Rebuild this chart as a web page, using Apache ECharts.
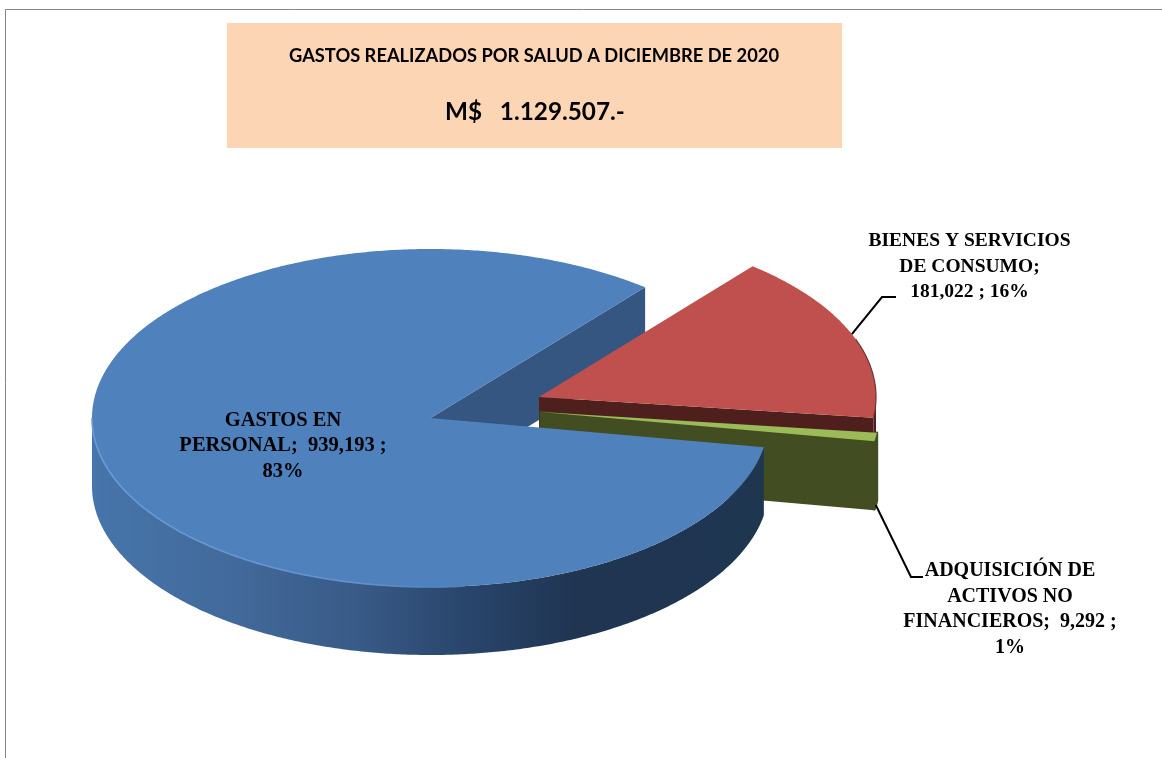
<!DOCTYPE html>
<html><head><meta charset="utf-8">
<style>html,body{margin:0;padding:0;background:#fff}#c{width:1162px;height:758px}</style>
<script src="https://cdn.jsdelivr.net/npm/echarts@6/dist/echarts.min.js"></script>
</head><body><div id="c"></div>
<script>
const categories = ['GASTOS EN PERSONAL', 'BIENES Y SERVICIOS DE CONSUMO', 'ADQUISICIÓN DE ACTIVOS NO FINANCIEROS'];
const values = [939193, 181022, 9292];
const labelLines = [
  ['GASTOS EN', 'PERSONAL;  {v} ;', '{p}%'],
  ['BIENES Y SERVICIOS', 'DE CONSUMO;', '{v} ; {p}%'],
  ['ADQUISICIÓN DE', 'ACTIVOS NO', 'FINANCIEROS;  {v} ;', '{p}%']
];
const titleText = 'GASTOS REALIZADOS POR SALUD A DICIEMBRE DE 2020';
const totalText = 'M$   1.129.507.-';

// layout and style (not data)
const START = -10, RY = 169, DEPTH = 68;
const radiiX = [338.5, 337, 339];
const centers = [[430.5, 418], [539, 397], [540.5, 412]];
const faceColors = ['#4F81BD', '#C0504D', '#9BBB59'];
const sideColors = ['#345680', '#4F1F1D', '#424D22'];
const outerFill = [
  {type:'linear',x:0,y:0,x2:1,y2:0,colorStops:[
    {offset:0,color:'#4675AB'},{offset:.22,color:'#42699A'},{offset:.40,color:'#385A86'},
    {offset:.55,color:'#2A466D'},{offset:.72,color:'#1F3552'},{offset:1,color:'#1F3651'}]},
  '#4F1F1D', '#424D22'];
const layers = [[1, 5], [2, 2], [3, 3]];
const labelPos = [[283, 446], [969.5, 266.5], [1010, 609.5]];
const labelSizes = [20.5, 19.5, 20];
const leaders = [null, {mid:0, pts:[[882,297],[896,297]]}, {mid:DEPTH, pts:[[911,577],[923,577]]}];

const total = values.reduce((a, b) => a + b, 0);
const rad = d => d * Math.PI / 180;
function pt(i, t, dy) { const c = centers[i]; return [c[0] + radiiX[i] * Math.cos(rad(t)), c[1] - RY * Math.sin(rad(t)) + (dy || 0)]; }
function arc(i, a, b, dy) { const n = Math.max(2, Math.ceil(Math.abs(a - b))*2), r = []; for (let k = 0; k <= n; k++) r.push(pt(i, a + (b - a) * k / n, dy)); return r; }
let cursor = START;
const angles = values.map(v => { const a = cursor; cursor -= v / total * 360; return [a, cursor]; });

function renderSlice(params, api) {
  const i = params.dataIndex, c = centers[i], v = api.value(0);
  const [a, b] = angles[i], [zWall, zFront] = layers[i];
  const kids = [];
  // flat cut wall at the end of the slice
  const e0 = pt(i, b), w = [c, e0, [e0[0], e0[1] + DEPTH], [c[0], c[1] + DEPTH]];
  kids.push({type:'polygon', z2:zWall, shape:{points:w}, style:{fill:sideColors[i], stroke:i===2?sideColors[i]:null, lineWidth:i===2?2:0, lineJoin:'round'}});
  // outer curved wall (front half only)
  const pts = arc(i, a, b).filter(p => p[1] >= c[1] - 0.01);
  if (pts.length > 1) {
    const low = pts.map(p => [p[0], p[1] + DEPTH]).reverse();
    kids.push({type:'polygon', z2:zFront, shape:{points:pts.concat(low)}, style:{fill:outerFill[i], stroke:i===2?sideColors[i]:null, lineWidth:i===2?2.5:0, lineJoin:'round'}});
  }
  // top face
  kids.push({type:'polygon', z2:zFront + 0.5, shape:{points:[c].concat(arc(i, a, b))}, style:{fill:faceColors[i]}});
  // bevels
  if (i === 0) {
    kids.push({type:'polyline', z2:zFront + 0.6, shape:{points:arc(i, -180, -85)}, style:{fill:null, lineWidth:1.6,
      stroke:{type:'linear',x:0,y:0,x2:1,y2:0,colorStops:[{offset:0,color:'#6A9BD8'},{offset:.7,color:'#6293CF'},{offset:1,color:'#4F81BD'}]}}});
  }
  if (i === 1) {
    kids.push({type:'polyline', z2:zFront + 0.6, shape:{points:arc(i, 20, -7)}, style:{fill:null, lineWidth:1.2, stroke:'#6E3533'}});
  }
  // leader
  if (leaders[i]) {
    const mid = pt(i, (a + b) / 2, leaders[i].mid);
    kids.push({type:'polyline', z2:6, shape:{points:[mid].concat(leaders[i].pts)}, style:{fill:null, stroke:'#000', lineWidth:2}});
  }
  // label
  const txt = labelLines[i].map(l => l.replace('{v}', v.toLocaleString('en-US')).replace('{p}', Math.round(v / total * 100))).join('\n');
  kids.push({type:'text', z2:7, x:labelPos[i][0], y:labelPos[i][1], style:{text:txt, fill:'#000', align:'center', verticalAlign:'middle',
    font:'bold ' + labelSizes[i] + 'px "Liberation Serif"', lineHeight:25.5}});
  return {type:'group', children:kids};
}

const chart = echarts.init(document.getElementById('c'), null, {renderer:'canvas', width:1162, height:758});
chart.setOption({
  animation:false,
  backgroundColor:'#fff',
  graphic:[
    {type:'polyline', z:0, shape:{points:[[5.5,758],[5.5,9.5],[1162,9.5]]}, style:{fill:null, stroke:'#868686', lineWidth:1}},
    {type:'rect', z:1, shape:{x:227,y:23,width:615,height:125}, style:{fill:'#FCD5B5'}},
    {type:'text', z:2, x:534, y:56, style:{text:titleText, fill:'#000', align:'center', verticalAlign:'middle', font:'bold 18.3px Lato'}},
    {type:'text', z:2, x:535, y:112, style:{text:totalText, fill:'#000', align:'center', verticalAlign:'middle', font:'bold 24.3px Lato'}}
  ],
  series:[{type:'custom', coordinateSystem:'none', silent:true, renderItem:renderSlice,
    data:values.map((v, i) => ({name:categories[i], value:[v]}))}]
});
</script></body></html>
